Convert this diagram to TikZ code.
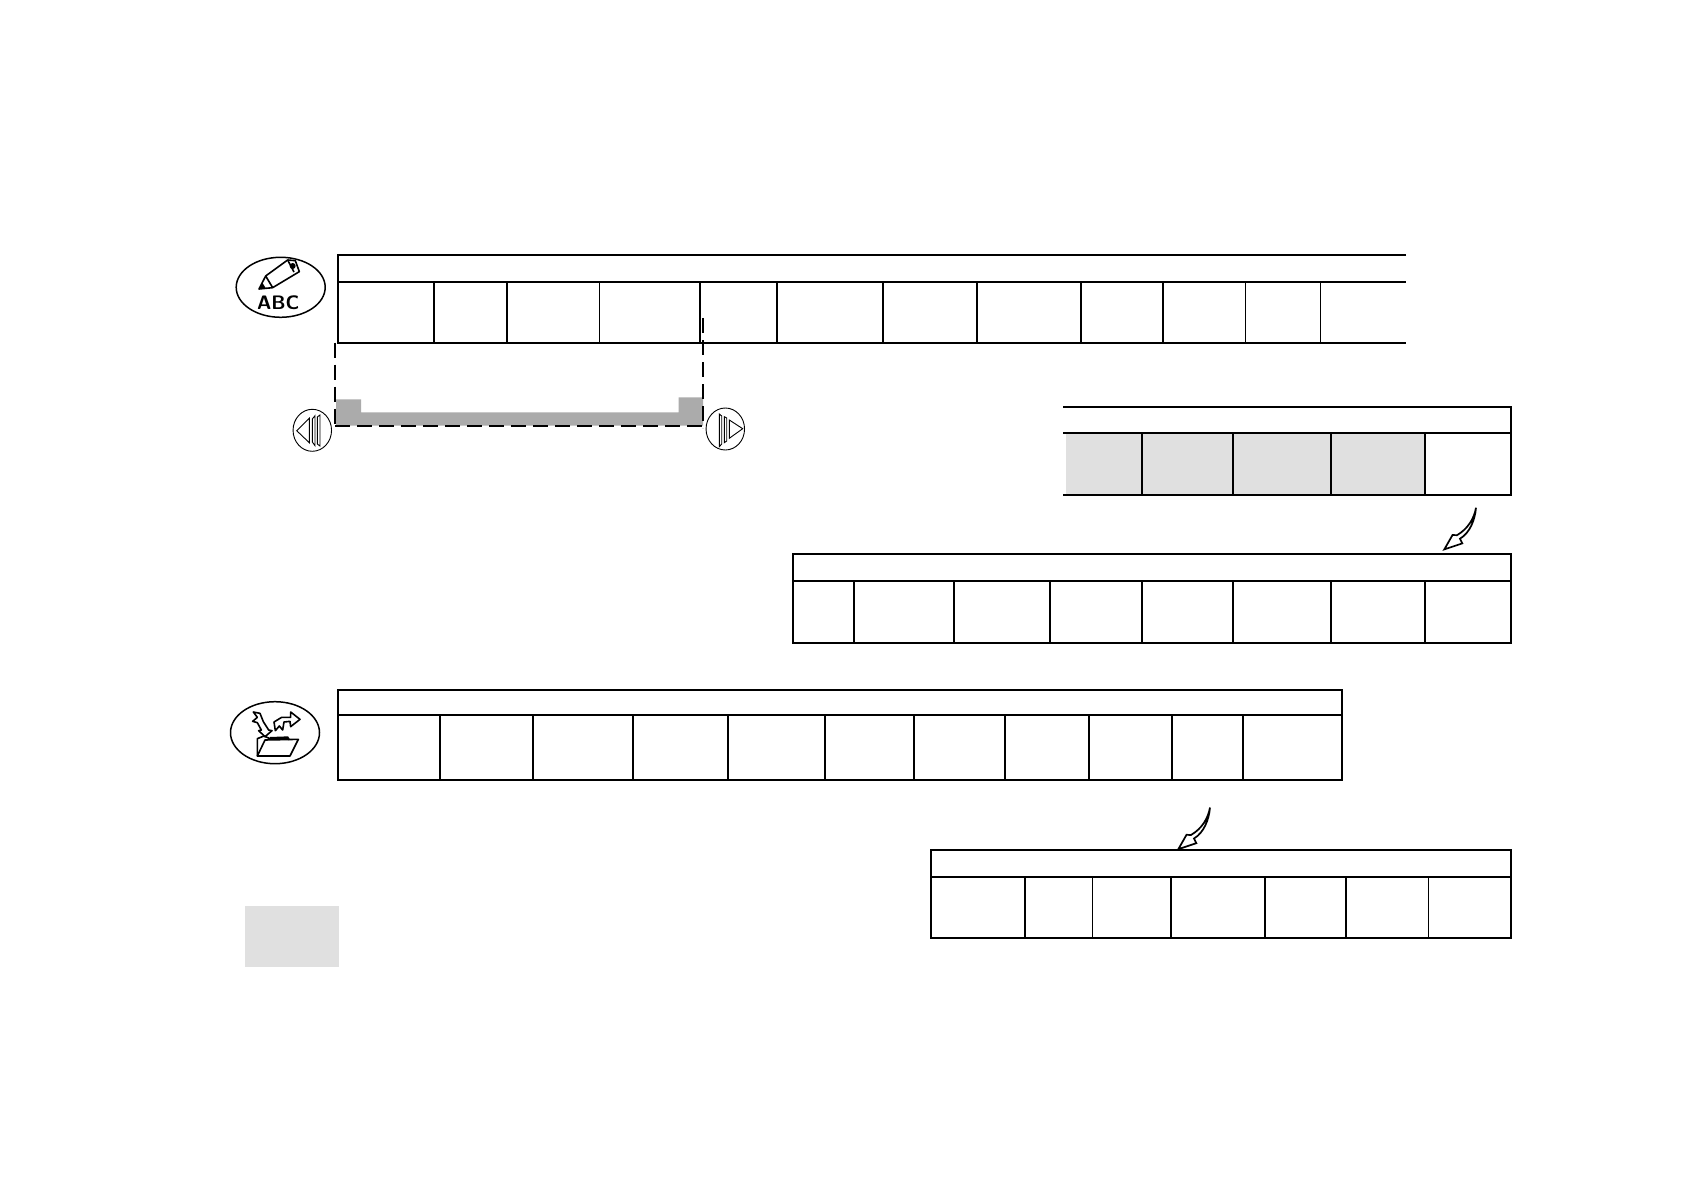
\documentclass[tikz,border=0pt]{standalone}
\usetikzlibrary{shapes.geometric, positioning}
\usepackage{xcolor}
\definecolor{lightcell}{HTML}{E0E0E0}
\definecolor{bargray}{HTML}{ABABAB}

\begin{document}
\begin{tikzpicture}[x=1pt, y=-1pt,
  rule/.style={line width=2pt},
  thinrule/.style={line width=1.1pt},
  iconoval/.style={ellipse, draw, line width=1.5pt, inner sep=0pt, minimum width=#1},
  iconoval/.default=89pt,
  navoval/.style={ellipse, draw, line width=0.9pt, inner sep=0pt, minimum width=38.5pt, minimum height=42pt},
  glyph/.style={line width=1.6pt, line join=round},
  navglyph/.style={line width=0.9pt, line join=miter},
  dashrule/.style={line width=2pt, dash pattern=on 15pt off 7pt},
  pics/bentarrow/.style={code={
    \draw[line width=1.7pt, line join=miter, fill=white] (0,0) .. controls (-2,11) and (-8,21) .. (-19,27.5)
      -- (-23.5,27.3) -- (-31.7,41.7) -- (-13.7,35.7) -- (-16,31) .. controls (-6,25) and (-1,12) .. (0,0);
  }}]
  \useasboundingbox (0,0) rectangle (1684,1190);

  % top table, open on the right
  \draw[rule] (1406,254.8) -- (337.8,254.8) -- (337.8,342.9) -- (1406,342.9);
  \draw[rule] (337.8,281.8) -- (1406,281.8);
  \foreach \xcol in {434.2,507.2,700.2,776.8,883.1,977.3,1080.7,1163.4}
    \draw[rule] (\xcol,281.8) -- (\xcol,342.9);
  \foreach \xcol in {599.6,1245.8,1320.2}
    \draw[thinrule] (\xcol,281.8) -- (\xcol,342.9);

  % scroll window
  \fill[bargray] (336,399.3) -- (361,399.3) -- (361,412.3) -- (678.7,412.3) -- (678.7,397.3) -- (703,397.3) -- (703,425.7) -- (336,425.7) -- cycle;
  \draw[dashrule] (335,342.7) -- (335,428);
  \draw[dashrule] (335,425.7) -- (703,425.7);
  \draw[dashrule] (703,318) -- (703,428);

  \node[navoval] (navleft) at (312.3,430.3) {};
  \draw[navglyph] (296.7,430.7) -- (309.3,418.3) -- (309.3,442.7) -- cycle;
  \draw[navglyph] (312.3,419) -- (315,415.7) -- (315,445.7) -- (312.3,442) -- cycle;
  \draw[navglyph] (317.3,417) -- (320,415) -- (320,446) -- (317.3,444) -- cycle;
  \node[navoval] (navright) at (725.3,429) {};
  \draw[navglyph] (742.7,428.7) -- (729.3,420) -- (729.3,438.3) -- cycle;
  \draw[navglyph] (719.3,414) -- (721.7,416) -- (721.7,444) -- (719.3,446.7) -- cycle;
  \draw[navglyph] (724.3,416.7) -- (726.7,418) -- (726.7,441) -- (724.3,442.7) -- cycle;

  % pencil icon
  \node[iconoval, minimum height=60pt] (penicon) at (280.7,287.3) {};
  \node[font=\sffamily\bfseries, scale=1.95] (abc) at (278.3,302.3) {ABC};
  \begin{scope}[shift={(220,240)}, xscale=1/3, yscale=1/3]
    \draw[glyph] (117,147) -- (137,108) -- (203,60) -- (226,62) -- (238,95) -- (158,143) -- cycle;
    \draw[glyph] (137,108) -- (158,143);
    \draw[glyph] (203,60) -- (222,96);
    \fill (218,78) circle (9);
    \fill (117,147) -- (127,128) -- (137,144) -- cycle;
  \end{scope}

  % shaded table
  \fill[lightcell] (1066,433.5) rectangle (1425,494);
  \draw[rule] (1063.3,407.3) -- (1511.3,407.3) -- (1511.3,495.3) -- (1063.3,495.3);
  \draw[rule] (1063.3,433.1) -- (1511.3,433.1);
  \foreach \xcol in {1142,1233.3,1331,1425}
    \draw[rule] (\xcol,433.1) -- (\xcol,495.3);
  \coordinate (arrowa) at (1476,507.7);
  \pic at (arrowa) {bentarrow};

  % wide table below it
  \draw[rule] (792.9,554.2) rectangle (1511.3,643.2);
  \draw[rule] (792.9,581.1) -- (1511.3,581.1);
  \foreach \xcol in {854.1,954,1050.3,1142,1233.3,1331,1425}
    \draw[rule] (\xcol,581.1) -- (\xcol,643.2);

  % folder icon
  \node[iconoval, minimum height=62pt] (foldericon) at (275,732.7) {};
  \begin{scope}[shift={(220,680)}, xscale=1/3, yscale=1/3]
    \draw[glyph] (112,228) -- (112,176) -- (132,168) -- (150,176) -- (205,174) -- (208,180);
    \draw[glyph] (112,228) -- (135,180) -- (235,178) -- (210,228) -- cycle;
    \draw[line width=2pt] (150,174) -- (205,172);
    \draw[glyph] (100,96) -- (120,100) -- (130,125) -- (146,150) -- (156,152) -- (135,170) -- (116,152) -- (124,150) -- (112,128) -- (98,124) -- (112,112) -- cycle;
    \draw[glyph] (166,152) -- (162,126) -- (185,112) -- (212,112) -- (212,96) -- (240,118) -- (212,140) -- (210,124) -- (192,126) -- (188,150) -- (178,138) -- cycle;
  \end{scope}

  % lower long table
  \draw[rule] (337.8,689.6) rectangle (1342.4,780);
  \draw[rule] (337.8,715.3) -- (1342.4,715.3);
  \foreach \xcol in {439.6,533,632.9,728.1,825.1,914.3,1005.2,1089.3,1172,1242.9}
    \draw[rule] (\xcol,715.3) -- (\xcol,780);
  \coordinate (arrowb) at (1210,807.5);
  \pic at (arrowb) {bentarrow};

  % last table
  \draw[rule] (930.5,849.8) rectangle (1511.3,937.9);
  \draw[rule] (930.5,876.7) -- (1511.3,876.7);
  \foreach \xcol in {1024.9,1170.7,1265.1,1346}
    \draw[rule] (\xcol,876.7) -- (\xcol,937.9);
  \foreach \xcol in {1092.6,1428.7}
    \draw[thinrule] (\xcol,876.7) -- (\xcol,937.9);

  % key swatch
  \fill[lightcell] (245,905.8) rectangle (338.5,966.8);
\end{tikzpicture}
\end{document}
